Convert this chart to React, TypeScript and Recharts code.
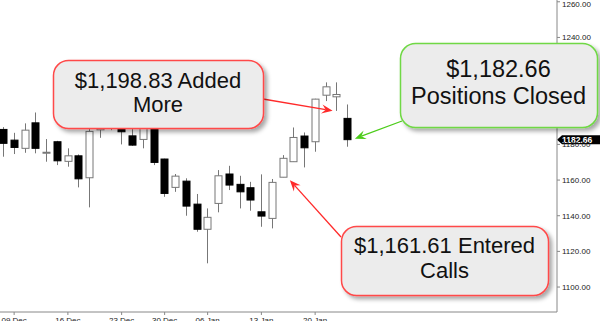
import React from "react";
import { ComposedChart, Bar, XAxis, YAxis, ReferenceDot, ReferenceLine } from "recharts";

// trading days shown as candles
const dates = [
  "06 Dec", "09 Dec", "10 Dec", "11 Dec", "12 Dec", "13 Dec",
  "16 Dec", "17 Dec", "18 Dec", "19 Dec", "20 Dec",
  "23 Dec", "24 Dec", "26 Dec", "27 Dec",
  "30 Dec", "31 Dec", "02 Jan", "03 Jan",
  "06 Jan", "07 Jan", "08 Jan", "09 Jan", "10 Jan",
  "13 Jan", "14 Jan", "15 Jan", "16 Jan", "17 Jan",
  "20 Jan", "21 Jan", "22 Jan", "23 Jan",
];
// empty days to the right of the last candle
const futureDates = [
  "24 Jan", "27 Jan", "28 Jan", "29 Jan", "30 Jan", "31 Jan",
  "03 Feb", "04 Feb", "05 Feb", "06 Feb", "07 Feb",
  "10 Feb", "11 Feb", "12 Feb", "13 Feb", "14 Feb",
  "17 Feb", "18 Feb", "19 Feb",
];
const opens = [
  1188.4, 1182.4, 1177.8, 1192.1, 1175.3, 1181.5, 1170.5, 1173.6, 1161.3, 1188.2, 1191.0,
  1190.3, 1184.8, 1182.8, 1190.3, 1171.8, 1155.9, 1159.4, 1146.5, 1132.4, 1146.9, 1163.4,
  1157.6, 1155.7, 1142.2, 1138.5, 1161.6, 1170.3, 1184.7, 1181.5, 1207.6, 1206.7, 1194.6,
];
const highs = [
  1189.7, 1186.5, 1191.8, 1197.9, 1183.0, 1182.0, 1177.8, 1174.4, 1189.1, 1194.8, 1199.0,
  1192.0, 1189.1, 1190.8, 1192.5, 1172.0, 1163.4, 1161.0, 1152.2, 1144.1, 1165.6, 1168.0,
  1162.4, 1159.0, 1163.2, 1160.6, 1174.0, 1189.5, 1186.7, 1205.6, 1214.8, 1214.8, 1202.4,
];
const lows = [
  1173.1, 1174.6, 1175.3, 1175.0, 1170.3, 1168.4, 1167.5, 1155.9, 1144.7, 1183.7, 1188.0,
  1180.0, 1179.2, 1177.8, 1168.4, 1150.6, 1153.4, 1140.0, 1131.0, 1113.3, 1141.9, 1154.4,
  1144.1, 1142.8, 1133.8, 1132.9, 1161.6, 1170.3, 1167.1, 1175.9, 1204.3, 1198.8, 1178.7,
];
const closes = [
  1180.6, 1178.3, 1188.0, 1177.8, 1175.6, 1170.8, 1173.6, 1160.7, 1187.3, 1191.4, 1195.5,
  1187.1, 1179.6, 1189.0, 1169.9, 1152.5, 1162.2, 1145.4, 1132.4, 1139.1, 1162.4, 1157.2,
  1153.4, 1148.8, 1139.8, 1158.7, 1172.2, 1183.9, 1178.1, 1205.4, 1212.3, 1208.0, 1182.66,
];
const xTicks = ["09 Dec", "16 Dec", "23 Dec", "30 Dec", "06 Jan", "13 Jan", "20 Jan"];
const yTicks = [1100, 1120, 1140, 1160, 1180, 1200, 1220, 1240, 1260];

const data = [
  ...dates.map((date, i) => ({
    date,
    open: opens[i],
    high: highs[i],
    low: lows[i],
    close: closes[i],
    range: [lows[i], highs[i]],
  })),
  ...futureDates.map((date) => ({ date })),
];

const FONT = "'Liberation Sans', Arial, sans-serif";
const SHIFT = 2; // chart svg starts 2px left of the page edge

const Candle = (props: any) => {
  const { x, y, width, height, payload } = props;
  if (!payload || payload.open == null) return null;
  const { open, close, high, low } = payload;
  const top = Math.min(y, y + height);
  const h = Math.abs(height);
  const ppu = high === low ? 0 : h / (high - low);
  const py = (v: number) => top + (high - v) * ppu;
  const cx = Math.round(x + width / 2) + 0.5;
  const up = close >= open;
  const bTop = py(Math.max(open, close));
  const bBot = py(Math.min(open, close));
  return (
    <g>
      <line x1={cx} x2={cx} y1={top} y2={top + h} stroke="#777" strokeWidth={1} />
      <rect
        x={cx - 3.5}
        y={bTop}
        width={7}
        height={Math.max(bBot - bTop, 1)}
        fill={up ? "#fff" : "#000"}
        stroke={up ? "#777" : "#000"}
        strokeWidth={1}
      />
    </g>
  );
};

const Arrow = ({ x1, y1, x2, y2, color }: { x1: number; y1: number; x2: number; y2: number; color: string }) => {
  const a = Math.atan2(y2 - y1, x2 - x1);
  const c = Math.cos(a);
  const s = Math.sin(a);
  const L = 11, W = 4.5, N = 7;
  const bx = x2 - L * c, by = y2 - L * s;
  const nx = x2 - N * c, ny = y2 - N * s;
  const pts = [
    [x2, y2],
    [bx - W * s, by + W * c],
    [nx, ny],
    [bx + W * s, by - W * c],
  ].map((p) => p.join(",")).join(" ");
  return (
    <g>
      <line x1={x1} y1={y1} x2={nx} y2={ny} stroke={color} strokeWidth={1.3} />
      <polygon points={pts} fill={color} />
    </g>
  );
};

const arrowAt = (fromX: number, fromY: number, dx: number, dy: number, color: string) => (p: any) => (
  <Arrow x1={fromX + SHIFT} y1={fromY} x2={p.cx + dx} y2={p.cy + dy} color={color} />
);

const PriceTag = (props: any) => {
  const { viewBox } = props;
  if (!viewBox) return null;
  const x = viewBox.x + viewBox.width;
  const y = viewBox.y;
  return (
    <g>
      <polygon points={`${x},${y} ${x + 5},${y - 4.5} ${x + 45},${y - 4.5} ${x + 45},${y + 4.5} ${x + 5},${y + 4.5}`} fill="#000" />
      <text x={x + 5} y={y + 3} fill="#fff" fontSize={8.5} fontWeight="bold" fontFamily={FONT}>
        1182.66
      </text>
    </g>
  );
};

const XTick = (props: any) => {
  const { x, payload } = props;
  return (
    <text x={x} y={323} textAnchor="middle" fontSize={8} fill="#222" fontFamily={FONT}>
      {payload.value}
    </text>
  );
};

type Note = { x: number; y: number; w: number; h: number; color: string; size: number; lines: string[]; base: number[] };

const notes: Note[] = [
  { x: 53, y: 60, w: 210, h: 68, color: "#ff4a4a", size: 22, lines: ["$1,198.83 Added", "More"], base: [87.5, 111.5] },
  { x: 400, y: 43, w: 197, h: 84, color: "#6fd844", size: 23.5, lines: ["$1,182.66", "Positions Closed"], base: [77, 104] },
  { x: 341, y: 226, w: 207, h: 69, color: "#ff4a4a", size: 22, lines: ["$1,161.61 Entered", "Calls"], base: [252.5, 277.5] },
];

const Notes = () => (
  <svg width={600} height={321} style={{ position: "absolute", left: 0, top: 0, pointerEvents: "none" }}>
    <defs>
      <filter id="shadow" x="-10%" y="-10%" width="130%" height="140%">
        <feDropShadow dx={3} dy={3} stdDeviation={2} floodColor="#000" floodOpacity={0.35} />
      </filter>
    </defs>
    {notes.map((n, i) => (
      <g key={i}>
        <rect
          x={n.x + 0.5}
          y={n.y + 0.5}
          width={n.w}
          height={n.h}
          rx={15}
          ry={15}
          fill="#ececec"
          stroke={n.color}
          strokeWidth={1.5}
          filter="url(#shadow)"
        />
        {n.lines.map((t, j) => (
          <text key={j} x={n.x + n.w / 2} y={n.base[j]} textAnchor="middle" fontSize={n.size} fill="#111" fontFamily={FONT}>
            {t}
          </text>
        ))}
      </g>
    ))}
  </svg>
);

export default function App() {
  return (
    <div style={{ position: "absolute", left: 0, top: 0, width: 600, height: 321, overflow: "hidden", background: "#fff" }}>
      <div style={{ position: "absolute", left: -SHIFT, top: 0 }}>
        <ComposedChart width={602} height={321} data={data} margin={{ top: 0, right: 0, bottom: 0, left: 0 }}>
          <XAxis
            dataKey="date"
            ticks={xTicks}
            interval={0}
            height={9}
            tick={<XTick />}
            tickSize={3}
            axisLine={{ stroke: "#888" }}
            tickLine={{ stroke: "#888" }}
          />
          <YAxis
            orientation="right"
            width={43}
            domain={[1086, 1261]}
            ticks={yTicks}
            allowDataOverflow
            tickFormatter={(v: number) => v.toFixed(2)}
            tick={{ fontSize: 8, fill: "#222", fontFamily: FONT }}
            tickSize={3}
            axisLine={{ stroke: "#888" }}
            tickLine={{ stroke: "#888" }}
          />
          <Bar dataKey="range" barSize={8} shape={<Candle />} isAnimationActive={false} />
          <ReferenceLine y={closes[closes.length - 1]} stroke="none" label={<PriceTag />} />
          <ReferenceDot x="22 Jan" y={1198.83} r={0} shape={arrowAt(263, 99, -4, 0, "#ff2a2a")} />
          <ReferenceDot x="23 Jan" y={1182.66} r={0} shape={arrowAt(402, 121, 7.5, -1, "#4ccc1a")} />
          <ReferenceDot x="15 Jan" y={1161.61} r={0} shape={arrowAt(341, 237, 7, 3, "#ff2a2a")} />
        </ComposedChart>
      </div>
      <Notes />
    </div>
  );
}
